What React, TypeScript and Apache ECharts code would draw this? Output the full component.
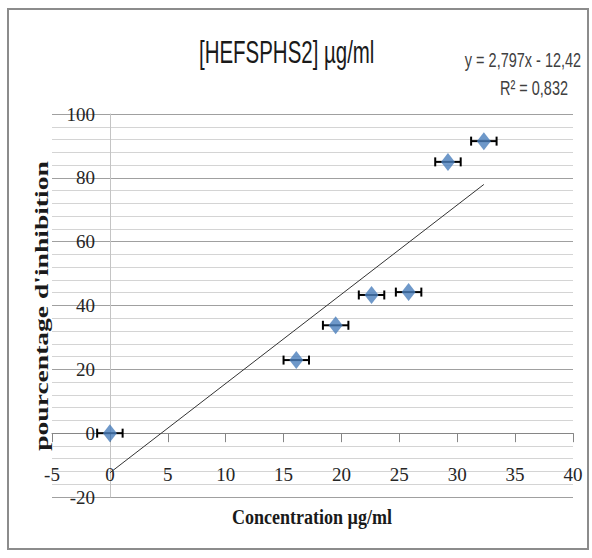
import React, { useEffect, useRef } from "react";
import * as echarts from "echarts";

// Measured inhibition vs. concentration
const CONCENTRATIONS = [0, 16.1, 19.5, 22.6, 25.8, 29.2, 32.3];
const INHIBITION = [0, 22.9, 33.8, 43.3, 44.2, 85.0, 91.5];
const CONC_ERRORS = [1.1, 1.1, 1.1, 1.1, 1.1, 1.1, 1.1];

// Linear trendline (as printed on the chart)
const TREND_SLOPE = 2.797;
const TREND_INTERCEPT = -12.42;
const TREND_X_RANGE = [0, 32.3];

const TITLE = "[HEFSPHS2] µg/ml";
const EQUATION = "y = 2,797x - 12,42";
const R_SQUARED = "R² = 0,832";
const X_NAME = "Concentration µg/ml";
const Y_NAME = "pourcentage d'inhibition";

const X_MIN = -5;
const X_MAX = 40;
const X_STEP = 5;
const Y_MIN = -20;
const Y_MAX = 100;
const Y_STEP = 20;

export default function App() {
  const ref = useRef<HTMLDivElement>(null);

  useEffect(() => {
    if (!ref.current) return;
    const chart = echarts.init(ref.current, undefined, { renderer: "svg" });

    const points = CONCENTRATIONS.map((x, i) => [x, INHIBITION[i]]);
    const errData = CONCENTRATIONS.map((x, i) => [x, INHIBITION[i], CONC_ERRORS[i]]);
    const trend = TREND_X_RANGE.map((x) => [x, TREND_SLOPE * x + TREND_INTERCEPT]);

    const serif = "'Liberation Serif', 'Times New Roman', serif";
    const sans = "'Liberation Sans', Arial, sans-serif";

    chart.setOption({
      animation: false,
      backgroundColor: "#ffffff",
      grid: { left: 52, right: 19, top: 114, bottom: 61 },
      xAxis: {
        type: "value",
        min: X_MIN,
        max: X_MAX,
        interval: X_STEP,
        axisLine: { show: true, onZero: true, lineStyle: { color: "#868686", width: 1 } },
        axisTick: { show: true, length: 9, lineStyle: { color: "#868686" } },
        splitLine: { show: false },
        axisLabel: {
          // labels sit in the band just below the zero line
          margin: -32,
          fontFamily: serif,
          fontSize: 19,
          color: "#262626",
        },
      },
      yAxis: {
        type: "value",
        min: Y_MIN,
        max: Y_MAX,
        interval: Y_STEP,
        axisLine: { show: true, onZero: true, lineStyle: { color: "#c4c4c4", width: 1 } },
        axisTick: { show: false },
        minorTick: { show: false, splitNumber: 5 },
        splitLine: { show: true, lineStyle: { color: "#a0a0a0", width: 1 } },
        minorSplitLine: { show: true, lineStyle: { color: "#d4d4d4", width: 1 } },
        axisLabel: {
          // labels end just left of the x = 0 axis line
          margin: -43,
          fontFamily: serif,
          fontSize: 19,
          color: "#262626",
        },
      },
      series: [
        {
          type: "line",
          data: trend,
          symbol: "none",
          lineStyle: { color: "#333333", width: 1 },
          z: 2,
        },
        {
          type: "custom",
          data: errData,
          z: 3,
          renderItem: (params: any, api: any) => {
            const x = api.value(0);
            const y = api.value(1);
            const e = api.value(2);
            const a = api.coord([x - e, y]);
            const b = api.coord([x + e, y]);
            const h = 4.5;
            const st = { stroke: "#000000", lineWidth: 2 };
            return {
              type: "group",
              children: [
                { type: "line", shape: { x1: a[0], y1: a[1], x2: b[0], y2: b[1] }, style: st },
                { type: "line", shape: { x1: a[0], y1: a[1] - h, x2: a[0], y2: a[1] + h }, style: st },
                { type: "line", shape: { x1: b[0], y1: b[1] - h, x2: b[0], y2: b[1] + h }, style: st },
              ],
            };
          },
        },
        {
          type: "scatter",
          data: points,
          symbol: "diamond",
          symbolSize: [14, 18],
          itemStyle: { color: "#4a7ebb" },
          z: 4,
        },
      ],
      graphic: [
        {
          type: "rect",
          shape: { x: 8, y: 9, width: 580, height: 540 },
          style: { fill: "none", stroke: "#8c8c8c", lineWidth: 2 },
          silent: true,
        },
        {
          type: "text",
          x: 199,
          y: 52,
          scaleX: 0.66,
          style: {
            text: TITLE,
            fontFamily: sans,
            fontSize: 31,
            fill: "#1a1a1a",
            align: "left",
            verticalAlign: "middle",
          },
        },
        {
          type: "text",
          x: 523,
          y: 60,
          scaleX: 0.69,
          style: {
            text: EQUATION,
            fontFamily: sans,
            fontSize: 21,
            fill: "#404040",
            align: "center",
            verticalAlign: "middle",
          },
        },
        {
          type: "text",
          x: 534,
          y: 88,
          scaleX: 0.69,
          style: {
            text: R_SQUARED,
            fontFamily: sans,
            fontSize: 21,
            fill: "#404040",
            align: "center",
            verticalAlign: "middle",
          },
        },
        {
          type: "text",
          x: 312,
          y: 516,
          scaleX: 0.82,
          style: {
            text: X_NAME,
            fontFamily: serif,
            fontWeight: "bold",
            fontSize: 22,
            fill: "#1a1a1a",
            align: "center",
            verticalAlign: "middle",
          },
        },
        {
          type: "text",
          x: 42,
          y: 306,
          rotation: Math.PI / 2,
          scaleX: 1.45,
          style: {
            text: Y_NAME,
            fontFamily: serif,
            fontWeight: "bold",
            fontSize: 19,
            fill: "#1a1a1a",
            align: "center",
            verticalAlign: "middle",
          },
        },
      ],
    });

    return () => chart.dispose();
  }, []);

  return (
    <div
      ref={ref}
      style={{ position: "fixed", left: 0, top: 0, width: 592, height: 558, background: "#ffffff" }}
    />
  );
}
